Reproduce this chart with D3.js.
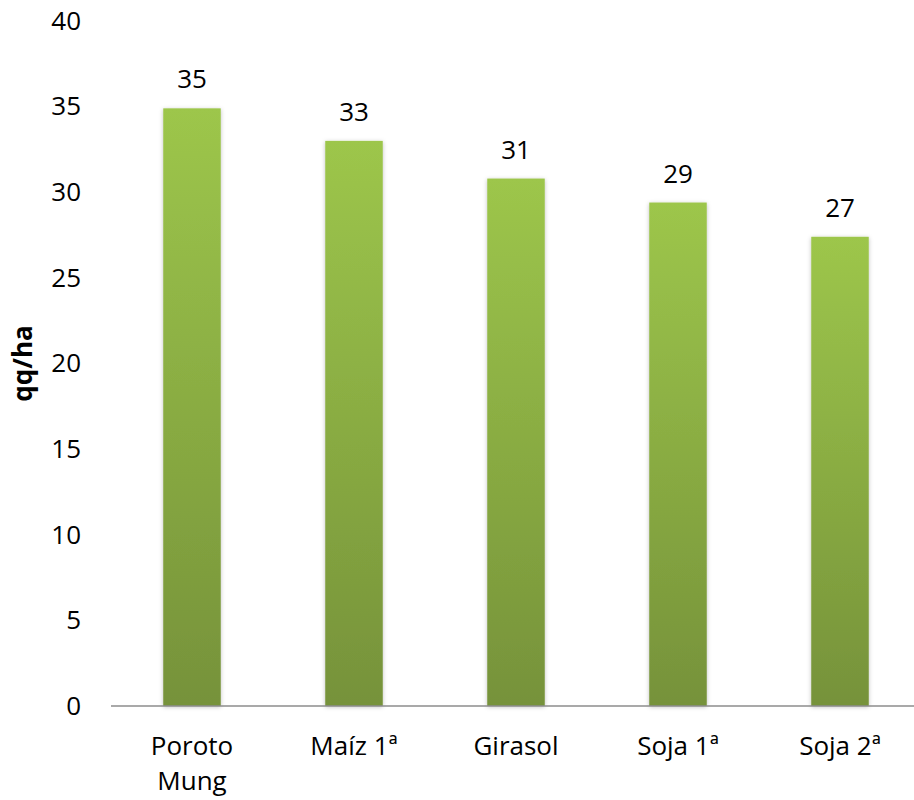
<!DOCTYPE html>
<html>
<head>
<meta charset="utf-8">
<script src="https://cdn.jsdelivr.net/npm/d3@7"></script>
<style>
  body { margin: 0; background: #fff; }
  svg text { font-family: "Open Sans", "Noto Sans", sans-serif; fill: #000; }
</style>
</head>
<body>
<svg id="chart" width="914" height="800"></svg>
<script>
// Rendimiento por cultivo (qq/ha)
const categories = ["Poroto Mung", "Maíz 1ª", "Girasol", "Soja 1ª", "Soja 2ª"];
const values = [34.9, 33.0, 30.8, 29.4, 27.4];
const yTicks = [0, 5, 10, 15, 20, 25, 30, 35, 40];
const yTitle = "qq/ha";

const FS = 26;
const svg = d3.select("#chart");
const margin = { left: 111, right: -7, top: 21, bottom: 94 };
const W = 914, H = 800;

const x = d3.scaleBand()
  .domain(categories)
  .range([margin.left, W - margin.right])
  .paddingInner(0.645)
  .paddingOuter(0.3225);

const y = d3.scaleLinear()
  .domain([0, 40])
  .range([H - margin.bottom, margin.top]);

const defs = svg.append("defs");
const grad = defs.append("linearGradient")
  .attr("id", "barFill").attr("x1", 0).attr("y1", 0).attr("x2", 0).attr("y2", 1);
grad.append("stop").attr("offset", "0%").attr("stop-color", "#9dc64b");
grad.append("stop").attr("offset", "100%").attr("stop-color", "#76923a");

const shadow = defs.append("filter").attr("id", "barShadow")
  .attr("x", "-20%").attr("y", "-5%").attr("width", "140%").attr("height", "110%");
shadow.append("feDropShadow")
  .attr("dx", 0).attr("dy", 1).attr("stdDeviation", 2)
  .attr("flood-color", "#000").attr("flood-opacity", 0.25);

// Bars
svg.append("g").selectAll("rect")
  .data(categories)
  .join("rect")
  .attr("x", d => x(d))
  .attr("y", (d, i) => y(values[i]))
  .attr("width", x.bandwidth())
  .attr("height", (d, i) => y(0) - y(values[i]))
  .attr("fill", "url(#barFill)")
  .attr("filter", "url(#barShadow)");

// Value labels
svg.append("g").selectAll("text")
  .data(categories)
  .join("text")
  .attr("x", d => x(d) + x.bandwidth() / 2)
  .attr("y", (d, i) => y(values[i]) - 20)
  .attr("text-anchor", "middle")
  .attr("font-size", FS)
  .text((d, i) => d3.format(".0f")(values[i]));

// Y axis (labels only)
const yAxis = d3.axisLeft(y).tickValues(yTicks).tickSize(0).tickPadding(0);
const gy = svg.append("g").attr("transform", "translate(81,0)").call(yAxis);
gy.select(".domain").remove();
gy.selectAll("text").attr("font-size", FS).attr("fill", "#000")
  .style("font-family", "\"Open Sans\", \"Noto Sans\", sans-serif");

// X baseline
svg.append("line")
  .attr("x1", margin.left).attr("x2", W)
  .attr("y1", y(0)).attr("y2", y(0))
  .attr("stroke", "#8c8c8c").attr("stroke-width", 1.5);

// Category labels ("Poroto Mung" wraps onto two lines)
const xl = svg.append("g");
categories.forEach(c => {
  const lines = c === "Poroto Mung" ? ["Poroto", "Mung"] : [c];
  const t = xl.append("text")
    .attr("x", x(c) + x.bandwidth() / 2)
    .attr("y", 755)
    .attr("text-anchor", "middle")
    .attr("font-size", FS);
  lines.forEach((l, i) => {
    t.append("tspan")
      .attr("x", x(c) + x.bandwidth() / 2)
      .attr("dy", i === 0 ? 0 : 35)
      .text(l);
  });
});

// Y title
svg.append("text")
  .attr("transform", `translate(32,${(y(0) + y(40)) / 2}) rotate(-90)`)
  .attr("text-anchor", "middle")
  .attr("font-size", FS)
  .attr("font-weight", "bold")
  .text(yTitle);
</script>
</body>
</html>
